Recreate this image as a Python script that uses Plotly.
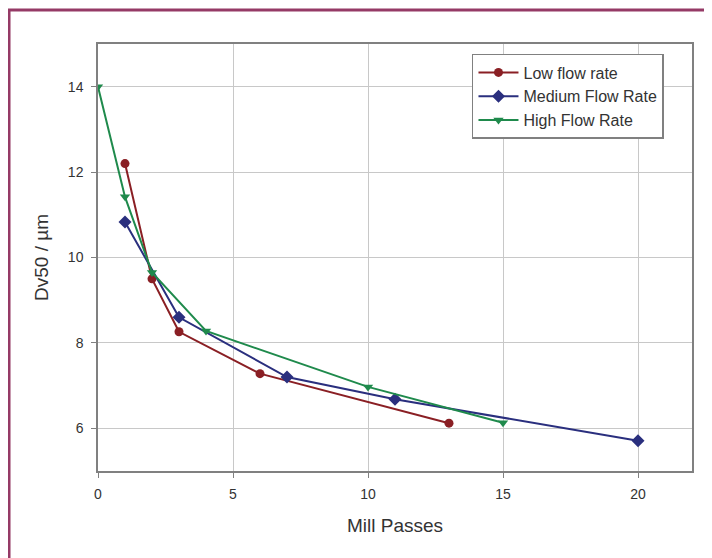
import plotly.graph_objects as go

low_x = [1, 2, 3, 6, 13]
low_y = [12.2, 9.5, 8.26, 7.28, 6.12]
med_x = [1, 3, 7, 11, 20]
med_y = [10.83, 8.6, 7.2, 6.68, 5.71]
high_x = [0, 1, 2, 4, 10, 15]
high_y = [14.0, 11.42, 9.65, 8.28, 6.97, 6.13]

x_ticks = [0, 5, 10, 15, 20]
y_ticks = [6, 8, 10, 12, 14]

FONT = "Liberation Sans, Arial"

fig = go.Figure()
fig.add_trace(go.Scatter(x=low_x, y=low_y, name="Low flow rate", mode="lines+markers",
                         line=dict(color="#8a1f24", width=2),
                         marker=dict(symbol="circle", size=9, color="#8a1f24")))
fig.add_trace(go.Scatter(x=med_x, y=med_y, name="Medium Flow Rate", mode="lines+markers",
                         line=dict(color="#2a2f7e", width=2),
                         marker=dict(symbol="diamond", size=10, color="#2a2f7e")))
fig.add_trace(go.Scatter(x=high_x, y=high_y, name="High Flow Rate", mode="lines+markers",
                         line=dict(color="#1f8a4c", width=2),
                         marker=dict(symbol="triangle-down", size=9, color="#1f8a4c")))

axis_common = dict(showgrid=True, gridcolor="#c8c8c8", gridwidth=1,
                   showline=True, linecolor="#808080", linewidth=1.5, mirror=True,
                   ticks="outside", ticklen=5, tickcolor="#808080",
                   zeroline=False, tickfont=dict(family=FONT, size=14, color="#333333"))

fig.update_xaxes(range=[0, 22], tickvals=x_ticks, ticklabelstandoff=4,
                 title=dict(text="Mill Passes", font=dict(family=FONT, size=19, color="#333333"), standoff=18),
                 **axis_common)
fig.update_yaxes(range=[5, 15], tickvals=y_ticks, ticklabelstandoff=5,
                 title=dict(text="Dv50 / µm", font=dict(family=FONT, size=19, color="#333333"), standoff=14),
                 **axis_common)

fig.add_shape(type="rect", xref="paper", yref="paper",
              x0=-0.1498, y0=-0.4, x1=1.3, y1=1.0796,
              line=dict(color="#953a66", width=3), fillcolor="rgba(0,0,0,0)", layer="below")

fig.update_layout(
    width=704, height=550,
    margin=dict(l=90, r=20, t=36, b=87),
    paper_bgcolor="white", plot_bgcolor="white",
    legend=dict(x=0.6296, y=0.9766, xanchor="left", yanchor="top",
                bgcolor="white", bordercolor="#808080", borderwidth=1.5,
                font=dict(family=FONT, size=16, color="#333333"),
                tracegroupgap=0, itemwidth=40),
    showlegend=True,
)

fig.write_html("out.html")
